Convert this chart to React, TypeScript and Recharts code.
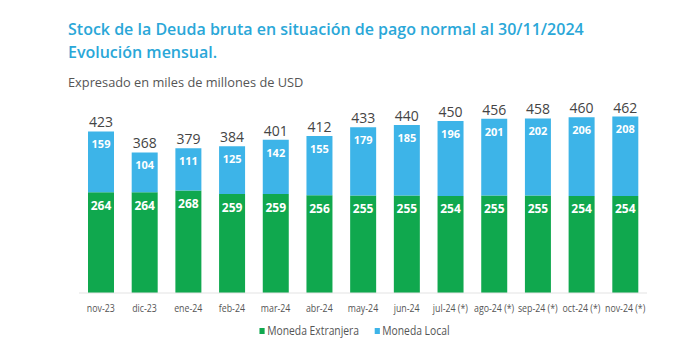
import { BarChart, Bar, XAxis, YAxis, LabelList } from "recharts";

const months = [
  "nov-23", "dic-23", "ene-24", "feb-24", "mar-24", "abr-24", "may-24",
  "jun-24", "jul-24 (*)", "ago-24 (*)", "sep-24 (*)", "oct-24 (*)", "nov-24 (*)",
];
const monedaExtranjera = [264, 264, 268, 259, 259, 256, 255, 255, 254, 255, 255, 254, 254];
const monedaLocal = [159, 104, 111, 125, 142, 155, 179, 185, 196, 201, 202, 206, 208];
const totales = [423, 368, 379, 384, 401, 412, 433, 440, 450, 456, 458, 460, 462];

const GREEN = "#10a84e";
const BLUE = "#3db4e8";
const FONT = "'Open Sans', 'Noto Sans', sans-serif";

const data = months.map((m, i) => ({
  mes: m,
  extranjera: monedaExtranjera[i],
  local: monedaLocal[i],
  total: totales[i],
}));

// condensed tick: the source uses a narrow face we don't have, so squeeze horizontally
const MonthTick = (props: any) => {
  const { x, y, payload } = props;
  return (
    <g transform={`translate(${x},${y}) scale(0.8,1)`}>
      <text
        x={0}
        y={0}
        dy={11}
        textAnchor="middle"
        fontSize={11}
        fill="#555"
        fontFamily={FONT}
      >
        {payload.value}
      </text>
    </g>
  );
};

export default function App() {
  return (
    <div
      style={{
        position: "fixed",
        left: 0,
        top: 0,
        width: 690,
        height: 354,
        background: "#fff",
        fontFamily: FONT,
      }}
    >
      <div
        style={{
          position: "absolute",
          left: 68,
          top: 18,
          color: "#2aa7d8",
          fontWeight: 600,
          fontSize: 16,
          lineHeight: "23px",
          whiteSpace: "nowrap",
        }}
      >
        Stock de la Deuda bruta en situación de pago normal al 30/11/2024
        <br />
        Evolución mensual.
      </div>
      <div
        style={{
          position: "absolute",
          left: 68,
          top: 73,
          color: "#555",
          fontSize: 12.8,
          whiteSpace: "nowrap",
        }}
      >
        Expresado en miles de millones de USD
      </div>

      <BarChart
        width={690}
        height={354}
        data={data}
        margin={{ top: 102, right: 43, left: 79, bottom: 31 }}
        barSize={26}
        style={{ position: "absolute", left: 0, top: 0 }}
      >
        <XAxis
          dataKey="mes"
          interval={0}
          tickLine={false}
          axisLine={{ stroke: "#e3e3e3" }}
          tick={<MonthTick />}
          height={30}
        />
        <YAxis hide domain={[0, 500]} />
        <Bar dataKey="extranjera" stackId="a" fill={GREEN} isAnimationActive={false}>
          <LabelList
            dataKey="extranjera"
            position="insideTop"
            offset={9}
            fill="#fff"
            fontSize={12}
            fontWeight={700}
            fontFamily={FONT}
          />
        </Bar>
        <Bar dataKey="local" stackId="a" fill={BLUE} isAnimationActive={false}>
          <LabelList
            dataKey="local"
            position="insideTop"
            offset={9}
            fill="#fff"
            fontSize={11}
            fontWeight={700}
            fontFamily={FONT}
          />
          <LabelList
            dataKey="total"
            position="top"
            offset={4}
            fill="#444"
            fontSize={14}
            fontWeight={400}
            fontFamily={FONT}
          />
        </Bar>
      </BarChart>

      <div
        style={{
          position: "absolute",
          left: 0,
          width: 709,
          top: 322,
          display: "flex",
          justifyContent: "center",
          gap: 18,
          fontSize: 12,
          color: "#555",
          transform: "scaleX(0.86)",
        }}
      >
        <span style={{ display: "flex", alignItems: "center", gap: 3 }}>
          <span style={{ width: 6, height: 6, background: GREEN, display: "inline-block" }} />
          Moneda Extranjera
        </span>
        <span style={{ display: "flex", alignItems: "center", gap: 3 }}>
          <span style={{ width: 6, height: 6, background: BLUE, display: "inline-block" }} />
          Moneda Local
        </span>
      </div>
    </div>
  );
}
